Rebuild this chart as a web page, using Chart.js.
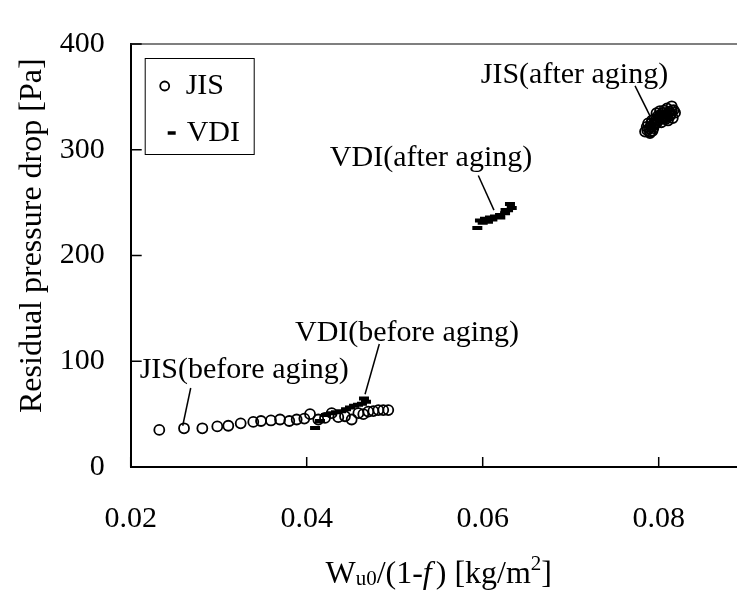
<!DOCTYPE html>
<html>
<head>
<meta charset="utf-8">
<script src="https://cdn.jsdelivr.net/npm/chart.js@4.4.1/dist/chart.umd.min.js"></script>
<style>
  html, body { margin: 0; padding: 0; background: #fff; overflow: hidden; }
  #wrap { width: 760px; height: 591px; }
</style>
</head>
<body>
<div id="wrap"><canvas id="chart" width="760" height="591"></canvas></div>
<script>
// Values
const jisBeforeX = [0.02325, 0.02606, 0.02814, 0.02984, 0.03109, 0.03250, 0.03393, 0.03481, 0.03594,
  0.03697, 0.03802, 0.03886, 0.03973, 0.04038, 0.04132, 0.04208, 0.04284, 0.04359, 0.04435,
  0.04511, 0.04587, 0.04643, 0.04700, 0.04757, 0.04814, 0.04870, 0.04927];
const jisBeforeY = [35.1, 36.6, 36.6, 38.4, 39.0, 41.3, 42.6, 43.5, 44.0,
  44.9, 43.5, 44.9, 45.8, 50.0, 44.9, 46.4, 50.9, 47.1, 48.0,
  44.9, 50.9, 50.0, 52.4, 52.9, 53.8, 53.8, 53.8];

const jisAfterX = [0.07845, 0.07901, 0.07864, 0.07880, 0.07924, 0.07958, 0.07940, 0.07992, 0.08015,
  0.08034, 0.08048, 0.08070, 0.08091, 0.08105, 0.08128, 0.08148, 0.08186, 0.08160,
  0.07870, 0.07910, 0.07950, 0.07980, 0.08000, 0.08020, 0.08060, 0.08080, 0.08110,
  0.08140, 0.08170, 0.07930, 0.07975, 0.08095,
  0.07890, 0.07915, 0.07945, 0.07965, 0.07990, 0.08010, 0.08040, 0.08055, 0.08085,
  0.08100, 0.08120, 0.08150, 0.07905, 0.08030];
const jisAfterY = [317.2, 315.8, 321.7, 325.0, 327.7, 324.7, 320.5, 332.1, 336.6,
  329.2, 334.8, 330.5, 333.7, 327.7, 332.1, 341.1, 335.1, 330.0,
  318.5, 322.0, 329.0, 326.0, 330.0, 333.0, 337.0, 329.0, 335.0,
  334.0, 337.5, 318.0, 334.5, 339.0,
  320.0, 325.0, 323.0, 328.0, 328.5, 331.0, 331.5, 332.0, 332.5,
  331.0, 336.0, 337.0, 317.0, 326.0];

const vdiBeforeX = [0.04095, 0.04151, 0.04219, 0.04276, 0.04333, 0.04390, 0.04447, 0.04492, 0.04538,
  0.04583, 0.04628, 0.04674, 0.04651];
const vdiBeforeY = [36.9, 43.5, 49.1, 50.9, 51.8, 52.7, 54.5, 56.3, 58.0,
  58.9, 59.8, 61.6, 64.7];

const vdiAfterX = [0.05939, 0.05969, 0.06026, 0.06083, 0.06140, 0.06197, 0.06254, 0.06288, 0.06330, 0.06310,
  0.06000, 0.06060, 0.06110, 0.06200, 0.06260];
const vdiAfterY = [225.9, 233.0, 234.8, 236.0, 236.9, 238.4, 239.9, 242.9, 244.9, 248.8,
  231.0, 232.0, 234.0, 236.0, 243.0];

const xTickValues = [0.02, 0.04, 0.06, 0.08];
const yTickValues = [0, 100, 200, 300, 400];

const seriesNames = ['JIS', 'VDI'];

// labels with leader lines, in data units
const notes = [
  { text: 'JIS(before aging)', x: 0.0329, y: 83.7, from: [0.02682, 74.7], to: [0.02591, 39.0] },
  { text: 'VDI(before aging)', x: 0.0514, y: 119.4, from: [0.04825, 116.3], to: [0.04663, 68.8] },
  { text: 'VDI(after aging)', x: 0.05413, y: 284.8, from: [0.05950, 275.6], to: [0.06128, 242.9] },
  { text: 'JIS(after aging)', x: 0.07043, y: 363.4, from: [0.07731, 360.4], to: [0.07901, 332.1] }
];

const fam = '"Liberation Serif", "Times New Roman", serif';

function toPoints(xs, ys) {
  return xs.map((x, i) => ({ x: x, y: ys[i] }));
}

// inward tick marks + top frame line
const framePlugin = {
  id: 'frame',
  afterDraw(chart) {
    const ctx = chart.ctx;
    const a = chart.chartArea;
    const xs = chart.scales.x, ys = chart.scales.y;
    ctx.save();
    ctx.strokeStyle = '#555';
    ctx.lineWidth = 1.5;
    ctx.beginPath();
    ctx.moveTo(a.left, a.top);
    ctx.lineTo(a.right, a.top);
    ctx.lineTo(a.right, a.bottom);
    ctx.stroke();
    ctx.strokeStyle = '#000';
    ctx.lineWidth = 1.5;
    ctx.beginPath();
    xs.ticks.forEach(t => {
      const px = xs.getPixelForValue(t.value);
      ctx.moveTo(px, a.bottom);
      ctx.lineTo(px, a.bottom - 10);
    });
    ys.ticks.forEach(t => {
      const py = ys.getPixelForValue(t.value);
      ctx.moveTo(a.left, py);
      ctx.lineTo(a.left + 11, py);
    });
    ctx.stroke();
    ctx.restore();
  }
};

// axis titles with sub/superscripts
const titlePlugin = {
  id: 'titles',
  afterDraw(chart) {
    const ctx = chart.ctx;
    const a = chart.chartArea;
    ctx.save();
    ctx.fillStyle = '#000';
    ctx.textBaseline = 'alphabetic';
    ctx.textAlign = 'left';
    const parts = [
      { t: 'W', f: '32px ' + fam, dy: 0, gap: 0 },
      { t: 'u0', f: '21px ' + fam, dy: 2, gap: 0 },
      { t: '/(1-', f: '32px ' + fam, dy: 0, gap: 0 },
      { t: 'f', f: 'italic 32px ' + fam, dy: 0, gap: 4 },
      { t: ') [kg/m', f: '32px ' + fam, dy: 0, gap: 0 },
      { t: '2', f: '21px ' + fam, dy: -13, gap: 0 },
      { t: ']', f: '32px ' + fam, dy: 0, gap: 0 }
    ];
    let total = 0;
    parts.forEach(p => { ctx.font = p.f; p.w = ctx.measureText(p.t).width; total += p.w + p.gap; });
    let x = (a.left + a.right) / 2 - total / 2;
    const base = a.bottom + 116;
    parts.forEach(p => {
      ctx.font = p.f;
      ctx.fillText(p.t, x, base + p.dy);
      x += p.w + p.gap;
    });

    ctx.translate(33, a.bottom - 54);
    ctx.rotate(-Math.PI / 2);
    ctx.font = '32px ' + fam;
    ctx.textBaseline = 'middle';
    ctx.fillText('Residual pressure drop [Pa]', 0, 0);
    ctx.restore();
  }
};

// callout labels
const notePlugin = {
  id: 'notes',
  afterDatasetsDraw(chart) {
    const ctx = chart.ctx;
    const xs = chart.scales.x, ys = chart.scales.y;
    ctx.save();
    ctx.fillStyle = '#000';
    ctx.strokeStyle = '#000';
    ctx.lineWidth = 1.5;
    ctx.font = '30px ' + fam;
    ctx.textAlign = 'center';
    ctx.textBaseline = 'alphabetic';
    notes.forEach(n => {
      ctx.fillText(n.text, xs.getPixelForValue(n.x), ys.getPixelForValue(n.y));
      ctx.beginPath();
      ctx.moveTo(xs.getPixelForValue(n.from[0]), ys.getPixelForValue(n.from[1]));
      ctx.lineTo(xs.getPixelForValue(n.to[0]), ys.getPixelForValue(n.to[1]));
      ctx.stroke();
    });
    ctx.restore();
  }
};

// boxed legend inside the plot
const legendPlugin = {
  id: 'boxLegend',
  afterDraw(chart) {
    const ctx = chart.ctx;
    const a = chart.chartArea;
    const bx = a.left + 14, by = a.top + 14;
    ctx.save();
    ctx.fillStyle = '#fff';
    ctx.fillRect(bx, by, 109, 96);
    ctx.strokeStyle = '#000';
    ctx.lineWidth = 1;
    ctx.strokeRect(bx + 0.5, by + 0.5, 109, 96);
    const rows = [
      { mx: bx + 20, tx: bx + 41, y: by + 28, r: 4.5, w: 1.8 },
      { mx: bx + 27, tx: bx + 42, y: by + 75, r: 4, w: 3.5 }
    ];
    chart.data.datasets.forEach((ds, i) => {
      const r = rows[i];
      ctx.strokeStyle = ds.pointBorderColor;
      ctx.fillStyle = 'rgba(0,0,0,0)';
      ctx.lineWidth = r.w;
      Chart.helpers.drawPoint(ctx, {
        pointStyle: ds.pointStyle, radius: r.r,
        rotation: 0, borderWidth: r.w
      }, r.mx, r.y);
      ctx.fillStyle = '#000';
      ctx.font = '30px ' + fam;
      ctx.textAlign = 'left';
      ctx.textBaseline = 'middle';
      ctx.fillText(ds.label, r.tx, r.y);
    });
    ctx.restore();
  }
};

Chart.defaults.font.family = fam;
Chart.defaults.font.size = 30;
Chart.defaults.color = '#000';

new Chart(document.getElementById('chart'), {
  type: 'scatter',
  data: {
    datasets: [
      {
        label: seriesNames[0],
        data: toPoints(jisBeforeX, jisBeforeY).concat(toPoints(jisAfterX, jisAfterY)),
        pointStyle: 'circle',
        pointRadius: 5,
        pointBorderWidth: 1.8,
        pointBorderColor: '#000',
        pointBackgroundColor: 'rgba(0,0,0,0)'
      },
      {
        label: seriesNames[1],
        data: toPoints(vdiBeforeX, vdiBeforeY).concat(toPoints(vdiAfterX, vdiAfterY)),
        pointStyle: 'line',
        pointRadius: 5,
        pointBorderWidth: 4,
        pointBorderColor: '#000',
        pointBackgroundColor: '#000'
      }
    ]
  },
  options: {
    responsive: false,
    animation: false,
    devicePixelRatio: 1,
    layout: { padding: { top: 19.5, right: 13.3, left: 0, bottom: 0 } },
    plugins: {
      legend: { display: false },
      tooltip: { enabled: false }
    },
    scales: {
      x: {
        type: 'linear',
        min: 0.02,
        max: 0.09,
        grid: { display: false, drawTicks: false },
        border: { display: true, color: '#000', width: 2 },
        afterBuildTicks: s => { s.ticks = xTickValues.map(v => ({ value: v })); },
        afterFit: s => { s.height = 124; },
        ticks: {
          padding: 34,
          maxRotation: 0,
          callback: v => v.toFixed(2)
        }
      },
      y: {
        type: 'linear',
        min: 0,
        max: 400,
        grid: { display: false, drawTicks: false },
        border: { display: true, color: '#000', width: 2 },
        afterBuildTicks: s => { s.ticks = yTickValues.map(v => ({ value: v })); },
        afterFit: s => { s.width = 130.7; },
        ticks: {
          padding: 26,
          callback: v => String(v)
        }
      }
    }
  },
  plugins: [framePlugin, notePlugin, titlePlugin, legendPlugin]
});
</script>
</body>
</html>
